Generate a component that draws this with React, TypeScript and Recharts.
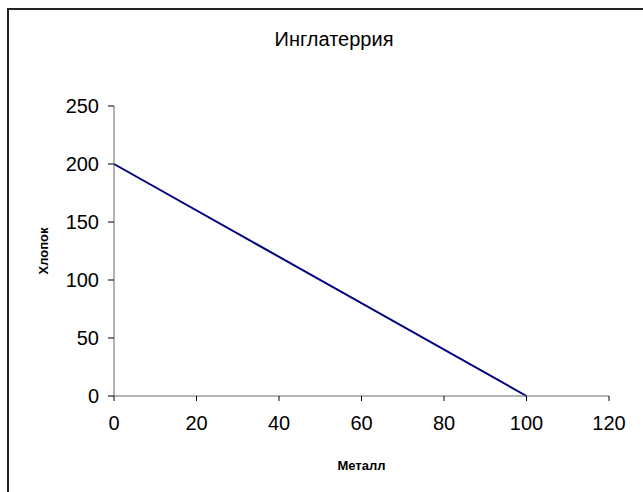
import React from 'react';
import { LineChart, Line, XAxis, YAxis, Label } from 'recharts';

const metal = [0, 100];
const cotton = [200, 0];
const xTicks = [0, 20, 40, 60, 80, 100, 120];
const yTicks = [0, 50, 100, 150, 200, 250];

const data = metal.map((m, i) => ({ metal: m, cotton: cotton[i] }));

const font = 'Arial, "Liberation Sans", sans-serif';

const YTitle = (props: any) => {
  const { viewBox } = props;
  const x = 43;
  const y = viewBox.y + viewBox.height / 2;
  return (
    <text
      x={x}
      y={y}
      transform={`rotate(-90, ${x}, ${y})`}
      textAnchor="middle"
      dominantBaseline="central"
      fontFamily={font}
      fontSize={13}
      fontWeight="bold"
      fill="#000"
    >
      Хлопок
    </text>
  );
};

const XTitle = (props: any) => {
  const { viewBox } = props;
  return (
    <text
      x={viewBox.x + viewBox.width / 2}
      y={465}
      textAnchor="middle"
      dominantBaseline="central"
      fontFamily={font}
      fontSize={13}
      fontWeight="bold"
      fill="#000"
    >
      Металл
    </text>
  );
};

const App = () => {
  return (
    <div style={{ position: 'absolute', left: 0, top: 0, width: 643, height: 492, overflow: 'hidden', background: '#fff' }}>
      <div
        style={{
          position: 'absolute',
          left: 7,
          top: 8,
          width: 700,
          height: 600,
          border: '2px solid #222',
        }}
      />
      <div
        style={{
          position: 'absolute',
          left: 0,
          top: 28,
          width: 668,
          textAlign: 'center',
          fontFamily: font,
          fontSize: 20,
          color: '#000',
        }}
      >
        Инглатеррия
      </div>
      <div style={{ position: 'absolute', left: 0, top: 0 }}>
        <LineChart width={643} height={492} data={data} margin={{ top: 106, right: 34, bottom: 0, left: 0 }}>
          <XAxis
            dataKey="metal"
            type="number"
            domain={[0, 120]}
            ticks={xTicks}
            axisLine={{ stroke: '#666', strokeWidth: 1 }}
            tickLine={{ stroke: '#000' }}
            tickSize={5}
            tickMargin={15}
            height={96}
            tick={{ fill: '#000', fontSize: 20, fontFamily: font }}
          >
            <Label content={<XTitle />} />
          </XAxis>
          <YAxis
            type="number"
            domain={[0, 250]}
            ticks={yTicks}
            width={114}
            axisLine={{ stroke: '#666', strokeWidth: 1 }}
            tickLine={{ stroke: '#000' }}
            tickSize={6}
            tickMargin={9}
            tick={{ fill: '#000', fontSize: 20, fontFamily: font }}
          >
            <Label content={<YTitle />} />
          </YAxis>
          <Line
            dataKey="cotton"
            stroke="#000080"
            strokeWidth={2}
            dot={false}
            isAnimationActive={false}
          />
        </LineChart>
      </div>
    </div>
  );
};

export default App;
